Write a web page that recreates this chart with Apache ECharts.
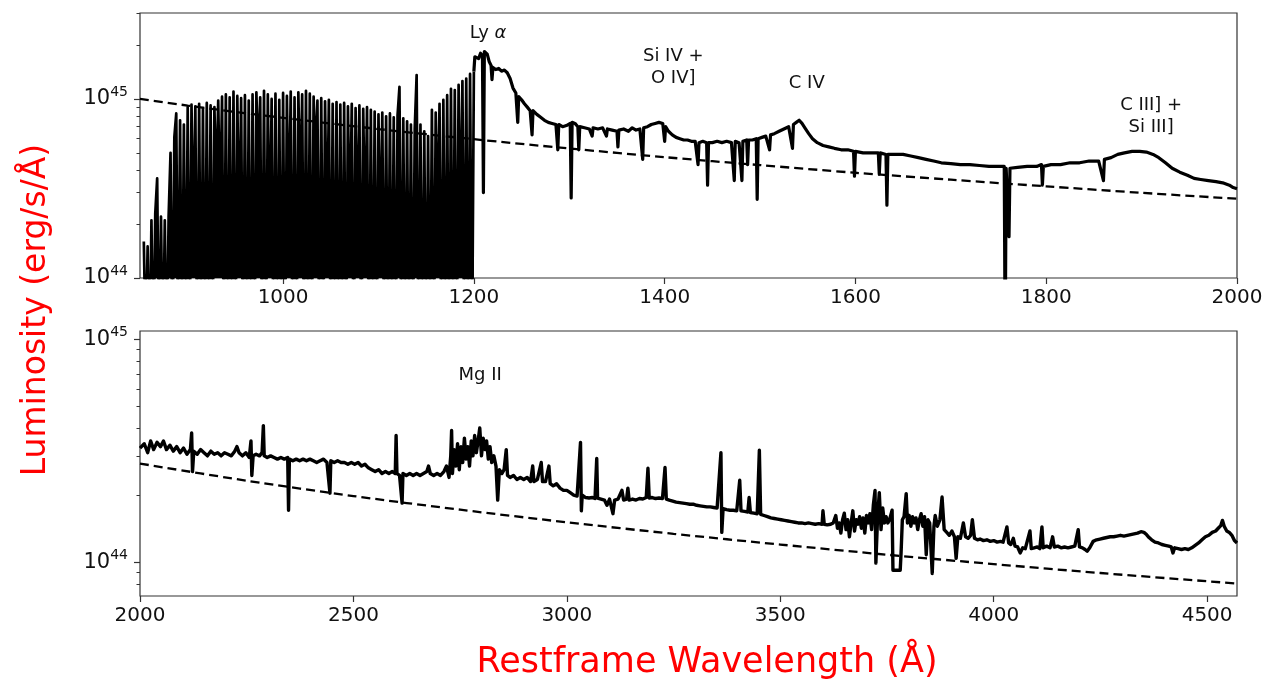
<!DOCTYPE html>
<html>
<head>
<meta charset="utf-8">
<title>Quasar rest-frame spectrum</title>
<script src="https://cdn.jsdelivr.net/npm/echarts@6/dist/echarts.min.js"></script>
<style>
  html, body { margin: 0; padding: 0; background: #ffffff; }
  #chart { width: 1267px; height: 685px; }
</style>
</head>
<body>
<div id="chart"></div>
<script>
// Luminosities are listed in units of 1e44 erg/s/Å.
const UNIT = 1e44;

// Lyman-alpha forest, sampled every 2 Å from 854 Å.
const forestStart = 854;
const forestStep = 2;
const forestLum = [
  1.6, 0.4, 1.5, 0.3, 2.1, 0.3, 2.3, 3.6, 0.3, 2.2,
  0.3, 2.1, 0.3, 2.2, 5.0, 0.3, 6.1, 8.3, 0.3, 7.6,
  0.3, 7.2, 0.3, 9.0, 0.3, 9.3, 1.5, 9.1, 0.3, 9.4,
  0.3, 8.9, 0.3, 9.5, 0.3, 9.2, 0.3, 9.0, 3.0, 9.8,
  2.2, 10.3, 0.3, 10.6, 0.3, 10.2, 0.3, 11.0, 0.3, 10.4,
  1.4, 10.1, 0.3, 10.5, 0.3, 9.8, 0.3, 10.6, 0.3, 10.9,
  4.3, 10.2, 0.3, 11.1, 0.3, 10.6, 1.2, 10.0, 0.3, 10.7,
  0.3, 9.9, 0.3, 10.8, 0.3, 10.4, 1.8, 11.0, 0.3, 10.2,
  0.3, 10.9, 2.6, 10.6, 0.3, 11.1, 0.3, 10.7, 0.3, 10.3,
  4.5, 9.8, 0.3, 10.1, 0.3, 9.7, 1.5, 9.9, 0.3, 9.4,
  0.3, 9.6, 0.3, 9.3, 0.3, 9.5, 0.3, 9.1, 1.6, 9.4,
  0.3, 8.9, 1.6, 9.2, 0.3, 8.8, 1.6, 9.0, 0.3, 8.7,
  0.3, 8.5, 0.3, 8.2, 1.2, 8.4, 0.3, 8.0, 0.3, 8.3,
  0.3, 7.9, 0.3, 8.1, 11.7, 0.3, 7.8, 0.3, 7.5, 0.3,
  7.2, 0.3, 6.8, 13.6, 0.3, 7.2, 0.3, 6.6, 0.3, 6.2,
  0.3, 8.7, 0.3, 8.4, 1.9, 9.4, 0.3, 9.9, 0.3, 10.5,
  0.3, 11.4, 0.3, 11.2, 0.3, 12.0, 1.5, 12.6, 0.3, 13.0,
  0.3, 13.8, 0.3, 14.2
];

// Far-UV spectrum redward of the forest: [wavelength Å, luminosity].
const uvSpectrum = [
  [1200, 14.2], [1201, 17.2], [1203, 17.6], [1205, 16.8], [1207, 18.0], [1209, 17.5],
  [1210, 3.0], [1211, 18.4], [1212, 18.8], [1214, 17.8], [1216, 16.2], [1218, 15.4],
  [1219, 12.8], [1220, 15.0], [1223, 14.6], [1226, 14.8], [1229, 14.3], [1232, 14.5],
  [1235, 14.0], [1238, 13.0], [1241, 11.5], [1244, 10.8], [1246, 7.4], [1247, 10.3],
  [1250, 9.9], [1253, 9.4], [1256, 9.0], [1259, 8.6], [1261, 6.3], [1262, 8.6],
  [1266, 8.2], [1270, 7.9], [1274, 7.6], [1278, 7.4], [1282, 7.3], [1286, 7.2],
  [1288, 5.2], [1289, 7.2], [1293, 7.0], [1297, 7.1], [1301, 7.3], [1302, 2.8],
  [1303, 7.4], [1306, 7.3], [1309, 7.0], [1310, 5.2], [1311, 7.0], [1316, 6.9],
  [1321, 6.8], [1324, 6.2], [1325, 6.9], [1330, 6.8], [1335, 6.9], [1339, 6.2],
  [1340, 6.8], [1345, 6.7], [1350, 6.6], [1351, 5.4], [1352, 6.7], [1357, 6.8],
  [1362, 6.6], [1366, 6.9], [1370, 6.7], [1374, 6.8], [1377, 4.6], [1378, 6.9],
  [1382, 7.0], [1386, 7.2], [1390, 7.3], [1394, 7.4], [1398, 7.3], [1400, 5.8],
  [1401, 7.0], [1404, 6.6], [1408, 6.3], [1412, 6.1], [1416, 6.0], [1420, 5.9],
  [1424, 5.9], [1428, 5.8], [1432, 5.8], [1435, 4.3], [1436, 5.7], [1440, 5.8],
  [1444, 5.7], [1445, 3.3], [1446, 5.7], [1450, 5.7], [1455, 5.8], [1460, 5.7],
  [1465, 5.8], [1470, 5.7], [1473, 3.5], [1474, 5.8], [1478, 5.7], [1481, 3.5],
  [1482, 5.8], [1486, 5.9], [1487, 4.3], [1488, 5.9], [1492, 5.9], [1496, 6.0],
  [1497, 2.75], [1498, 6.0], [1502, 6.1], [1506, 6.2], [1510, 5.2], [1511, 6.3],
  [1515, 6.4], [1520, 6.6], [1525, 6.8], [1530, 7.0], [1534, 5.3], [1535, 7.2],
  [1538, 7.4], [1541, 7.6], [1544, 7.3], [1547, 6.9], [1551, 6.4], [1555, 6.0],
  [1560, 5.7], [1566, 5.5], [1572, 5.4], [1578, 5.3], [1585, 5.2], [1592, 5.2],
  [1598, 5.1], [1599, 3.7], [1600, 5.1], [1608, 5.0], [1616, 5.0], [1624, 5.0],
  [1625, 3.8], [1626, 5.0], [1632, 4.9], [1633, 2.55], [1634, 4.9], [1642, 4.9],
  [1650, 4.9], [1658, 4.8], [1666, 4.7], [1674, 4.6], [1682, 4.5], [1690, 4.4],
  [1700, 4.35], [1710, 4.3], [1720, 4.3], [1730, 4.25], [1740, 4.2], [1750, 4.2],
  [1756, 4.2], [1757, 0.4], [1758, 4.1], [1760, 4.1], [1761, 1.7], [1762, 4.1],
  [1770, 4.15], [1780, 4.2], [1790, 4.2], [1795, 4.3], [1796, 3.3], [1797, 4.2],
  [1805, 4.3], [1815, 4.3], [1825, 4.4], [1835, 4.4], [1845, 4.5], [1855, 4.5],
  [1860, 3.5], [1861, 4.6], [1868, 4.7], [1875, 4.9], [1882, 5.0], [1890, 5.1],
  [1898, 5.1], [1905, 5.05], [1912, 4.9], [1918, 4.7], [1925, 4.4], [1932, 4.1],
  [1940, 3.9], [1948, 3.75], [1955, 3.6], [1962, 3.55], [1970, 3.5], [1978, 3.45],
  [1985, 3.4], [1992, 3.3], [1996, 3.2], [2000, 3.15]
];

// Near-UV / optical spectrum: [wavelength Å, luminosity].
const opticalSpectrum = [
  [2000, 3.25], [2010, 3.4], [2018, 3.1], [2025, 3.5], [2032, 3.2], [2040, 3.45],
  [2048, 3.3], [2055, 3.5], [2062, 3.2], [2070, 3.35], [2078, 3.15], [2086, 3.3],
  [2094, 3.1], [2102, 3.25], [2110, 3.05], [2118, 3.2], [2121, 3.8], [2123, 2.55],
  [2126, 3.15], [2134, 3.05], [2142, 3.2], [2150, 3.1], [2158, 3.0], [2166, 3.15],
  [2174, 3.05], [2182, 3.1], [2190, 3.0], [2198, 3.1], [2206, 3.05], [2214, 3.0],
  [2222, 3.15], [2227, 3.3], [2232, 3.1], [2240, 3.0], [2248, 3.1], [2256, 2.95],
  [2260, 3.5], [2262, 2.45], [2265, 3.0], [2272, 3.05], [2280, 3.0], [2286, 3.1],
  [2289, 4.1], [2291, 3.0], [2298, 2.95], [2306, 3.0], [2314, 2.95], [2322, 2.9],
  [2330, 2.95], [2338, 2.9], [2346, 2.95], [2348, 1.71], [2350, 2.9], [2358, 2.85],
  [2366, 2.9], [2374, 2.85], [2382, 2.9], [2390, 2.85], [2398, 2.9], [2406, 2.85],
  [2414, 2.8], [2422, 2.85], [2430, 2.9], [2438, 2.8], [2445, 2.04], [2447, 2.85],
  [2455, 2.8], [2463, 2.85], [2471, 2.8], [2479, 2.8], [2487, 2.75], [2495, 2.8],
  [2503, 2.75], [2511, 2.8], [2519, 2.7], [2527, 2.75], [2535, 2.65], [2543, 2.6],
  [2551, 2.55], [2559, 2.6], [2567, 2.5], [2575, 2.55], [2583, 2.5], [2591, 2.55],
  [2598, 2.5], [2600, 3.7], [2602, 2.5], [2608, 2.45], [2614, 1.84], [2616, 2.5],
  [2624, 2.45], [2632, 2.5], [2640, 2.45], [2648, 2.5], [2656, 2.45], [2664, 2.5],
  [2672, 2.55], [2676, 2.7], [2680, 2.5], [2688, 2.45], [2696, 2.5], [2704, 2.45],
  [2712, 2.55], [2718, 2.7], [2724, 2.4], [2728, 3.0], [2730, 3.9], [2732, 2.5],
  [2736, 3.2], [2740, 2.7], [2744, 3.4], [2748, 2.6], [2752, 3.3], [2756, 2.8],
  [2760, 3.6], [2764, 2.9], [2768, 3.3], [2772, 2.7], [2776, 3.5], [2780, 3.0],
  [2784, 3.7], [2788, 3.1], [2792, 3.5], [2796, 4.0], [2800, 3.0], [2804, 3.6],
  [2808, 3.2], [2812, 3.5], [2816, 2.9], [2820, 3.3], [2824, 2.8], [2829, 3.0],
  [2834, 2.7], [2838, 1.9], [2842, 2.6], [2848, 2.5], [2853, 2.6], [2858, 3.2],
  [2861, 2.45], [2867, 2.4], [2875, 2.45], [2883, 2.35], [2891, 2.4], [2899, 2.35],
  [2907, 2.4], [2915, 2.3], [2920, 2.7], [2923, 2.3], [2931, 2.35], [2940, 2.8],
  [2943, 2.3], [2950, 2.3], [2958, 2.7], [2961, 2.25], [2968, 2.2], [2976, 2.25],
  [2984, 2.15], [2992, 2.1], [3000, 2.1], [3008, 2.05], [3016, 2.0], [3024, 1.98],
  [3032, 3.45], [3034, 1.7], [3036, 2.0], [3044, 1.95], [3052, 1.94], [3060, 1.95],
  [3066, 1.93], [3070, 2.92], [3072, 1.94], [3080, 1.92], [3088, 1.9], [3094, 1.8],
  [3100, 1.92], [3108, 1.65], [3112, 1.9], [3120, 1.92], [3129, 2.1], [3133, 1.9],
  [3140, 1.92], [3143, 2.15], [3146, 1.9], [3154, 1.92], [3162, 1.9], [3170, 1.93],
  [3178, 1.92], [3186, 1.95], [3190, 2.64], [3193, 1.94], [3200, 1.95], [3208, 1.93],
  [3216, 1.94], [3224, 1.93], [3230, 2.66], [3233, 1.92], [3240, 1.9], [3248, 1.88],
  [3256, 1.86], [3264, 1.85], [3272, 1.84], [3280, 1.83], [3288, 1.82], [3296, 1.82],
  [3304, 1.8], [3312, 1.79], [3320, 1.78], [3328, 1.77], [3336, 1.77], [3344, 1.76],
  [3352, 1.75], [3361, 3.1], [3363, 1.36], [3366, 1.74], [3374, 1.72], [3382, 1.71],
  [3390, 1.71], [3398, 1.7], [3405, 2.33], [3408, 1.7], [3416, 1.69], [3424, 1.68],
  [3427, 1.95], [3430, 1.67], [3438, 1.66], [3446, 1.65], [3451, 3.18], [3454, 1.64],
  [3462, 1.62], [3470, 1.6], [3478, 1.58], [3486, 1.57], [3494, 1.56], [3502, 1.55],
  [3510, 1.54], [3518, 1.53], [3526, 1.52], [3534, 1.51], [3542, 1.5], [3550, 1.5],
  [3558, 1.49], [3566, 1.5], [3574, 1.49], [3582, 1.48], [3590, 1.49], [3598, 1.48],
  [3600, 1.7], [3603, 1.48], [3610, 1.47], [3618, 1.48], [3624, 1.5], [3630, 1.62],
  [3634, 1.42], [3638, 1.5], [3642, 1.35], [3646, 1.55], [3650, 1.66], [3654, 1.4],
  [3658, 1.55], [3662, 1.3], [3666, 1.5], [3670, 1.7], [3674, 1.38], [3678, 1.55],
  [3682, 1.48], [3686, 1.6], [3690, 1.42], [3694, 1.58], [3698, 1.35], [3702, 1.62],
  [3706, 1.5], [3710, 1.65], [3714, 1.4], [3718, 1.8], [3722, 2.1], [3724, 0.99],
  [3728, 1.6], [3732, 2.05], [3736, 1.4], [3740, 1.75], [3744, 1.5], [3748, 1.6],
  [3752, 1.5], [3756, 1.55], [3762, 1.71], [3764, 0.92], [3781, 0.92], [3783, 1.1],
  [3786, 1.55], [3790, 1.6], [3795, 2.03], [3798, 1.5], [3802, 1.62], [3806, 1.45],
  [3810, 1.6], [3814, 1.5], [3818, 1.58], [3822, 1.4], [3826, 1.55], [3830, 1.65],
  [3834, 1.45], [3838, 1.6], [3842, 1.08], [3846, 1.55], [3850, 1.5], [3856, 0.89],
  [3860, 1.45], [3863, 1.62], [3868, 1.45], [3874, 1.55], [3879, 1.96], [3884, 1.4],
  [3890, 1.36], [3896, 1.32], [3902, 1.38], [3908, 1.3], [3912, 1.04], [3916, 1.3],
  [3922, 1.28], [3929, 1.5], [3934, 1.3], [3940, 1.28], [3946, 1.32], [3950, 1.55],
  [3955, 1.28], [3962, 1.26], [3968, 1.27], [3976, 1.25], [3984, 1.26], [3992, 1.24],
  [4000, 1.25], [4008, 1.23], [4016, 1.24], [4022, 1.23], [4031, 1.44], [4035, 1.22],
  [4040, 1.2], [4046, 1.28], [4050, 1.18], [4056, 1.17], [4062, 1.1], [4068, 1.16],
  [4074, 1.15], [4078, 1.13], [4085, 1.38], [4088, 1.15], [4095, 1.16], [4102, 1.17],
  [4108, 1.15], [4113, 1.44], [4116, 1.16], [4124, 1.18], [4132, 1.16], [4138, 1.3],
  [4142, 1.17], [4150, 1.18], [4158, 1.16], [4166, 1.17], [4174, 1.16], [4182, 1.17],
  [4190, 1.18], [4198, 1.4], [4201, 1.17], [4208, 1.16], [4214, 1.14], [4219, 1.12],
  [4225, 1.16], [4233, 1.24], [4241, 1.26], [4249, 1.27], [4257, 1.28], [4265, 1.29],
  [4273, 1.3], [4281, 1.3], [4289, 1.31], [4297, 1.32], [4305, 1.31], [4313, 1.32],
  [4321, 1.33], [4329, 1.34], [4337, 1.35], [4345, 1.37], [4352, 1.36], [4358, 1.33],
  [4364, 1.29], [4370, 1.26], [4378, 1.23], [4386, 1.22], [4394, 1.2], [4402, 1.19],
  [4410, 1.18], [4416, 1.17], [4420, 1.1], [4424, 1.16], [4432, 1.15], [4440, 1.14],
  [4448, 1.15], [4456, 1.14], [4464, 1.16], [4472, 1.19], [4480, 1.22], [4488, 1.26],
  [4496, 1.3], [4504, 1.32], [4512, 1.36], [4520, 1.38], [4526, 1.42], [4532, 1.46],
  [4536, 1.54], [4540, 1.45], [4546, 1.38], [4552, 1.36], [4558, 1.32], [4564, 1.25],
  [4570, 1.22]
];

// Power-law continuum (dashed).
const continuumUvLambda = [850, 900, 950, 1000, 1100, 1200, 1300, 1400, 1500, 1600, 1700, 1800, 1900, 2000];
const continuumUvLum = [10.0, 9.18, 8.46, 7.84, 6.79, 5.96, 5.29, 4.73, 4.27, 3.87, 3.54, 3.25, 2.99, 2.77];
const continuumOptLambda = [2000, 2250, 2500, 2750, 3000, 3250, 3500, 3750, 4000, 4250, 4500, 4570];
const continuumOptLum = [2.77, 2.32, 1.98, 1.72, 1.51, 1.34, 1.20, 1.08, 0.98, 0.894, 0.821, 0.802];

// Axis ticks.
const uvTicks = [1000, 1200, 1400, 1600, 1800, 2000];
const optTicks = [2000, 2500, 3000, 3500, 4000, 4500];
const decadeTicks = [1e44, 1e45];
const uvMinorTicks = [2e44, 3e44, 4e44, 5e44, 6e44, 7e44, 8e44, 9e44, 2e45, 3e45];
const optMinorTicks = [8e43, 9e43, 2e44, 3e44, 4e44, 5e44, 6e44, 7e44, 8e44, 9e44];

// Emission-line annotations.
const uvLineNames = ['Ly α', 'Si IV +\nO IV]', 'C IV', 'C III] +\nSi III]'];
const uvLineLambda = [1215, 1409, 1549, 1910];
const uvLineLum = [23.4, 15.0, 12.3, 8.04];
const optLineNames = ['Mg II'];
const optLineLambda = [2797];
const optLineLum = [6.9];

const FONT = 'DejaVu Sans';
const INK = '#111111';

const pairs = (xs, ys) => xs.map((x, i) => [x, ys[i] * UNIT]);
const scaled = rows => rows.map(r => [r[0], r[1] * UNIT]);
const forestData = forestLum.map((v, i) => [forestStart + i * forestStep, v * UNIT]);

const decadeLabel = v => '{b|10}{s|' + Math.round(Math.log10(v)) + '}';
const decadeRich = {
  b: { fontSize: 21, fontFamily: FONT, color: INK },
  s: { fontSize: 14, fontFamily: FONT, color: INK, padding: [0, 0, 14, 0] }
};

function xAxisFor(grid, min, max, ticks) {
  return {
    type: 'value', gridIndex: grid, min: min, max: max,
    axisLine: { show: false },
    splitLine: { show: false },
    axisTick: { show: true, customValues: ticks, length: 6, lineStyle: { color: '#333', width: 1.2 } },
    axisLabel: {
      show: true, customValues: ticks, margin: 10, fontSize: 20, fontFamily: FONT, color: INK,
      formatter: v => String(v)
    }
  };
}

function yMajor(grid, min, max) {
  return {
    type: 'log', logBase: 10, gridIndex: grid, min: min, max: max, position: 'left',
    axisLine: { show: false },
    splitLine: { show: false },
    minorTick: { show: false },
    axisTick: { show: true, customValues: decadeTicks, length: 6, lineStyle: { color: '#333', width: 1.2 } },
    axisLabel: { show: true, customValues: decadeTicks, margin: 12, formatter: decadeLabel, rich: decadeRich }
  };
}

function yMinor(grid, min, max, ticks) {
  return {
    type: 'log', logBase: 10, gridIndex: grid, min: min, max: max, position: 'left', offset: 0,
    axisLine: { show: false },
    splitLine: { show: false },
    axisTick: { show: true, customValues: ticks, length: 3.5, lineStyle: { color: '#333', width: 1 } },
    axisLabel: { show: false }
  };
}

function lineMarks(names, lambdas, lums) {
  return {
    silent: true,
    animation: false,
    symbol: 'circle',
    symbolSize: 1,
    itemStyle: { color: 'rgba(0,0,0,0)' },
    label: {
      show: true, position: 'inside', color: INK, fontFamily: FONT, fontSize: 18, lineHeight: 22,
      formatter: p => p.name === 'Ly α' ? '{n|Ly }{a|α}' : p.name,
      rich: {
        n: { fontSize: 18, fontFamily: FONT, color: INK },
        a: { fontSize: 18, fontFamily: FONT, color: INK, fontStyle: 'italic' }
      }
    },
    data: names.map((n, i) => ({ name: n, coord: [lambdas[i], lums[i] * UNIT] }))
  };
}

const spectrumStyle = w => ({ color: '#000', width: w, join: 'round' });
const dashStyle = { color: '#000', width: 2.3, type: [9, 5] };

const chart = echarts.init(document.getElementById('chart'), null, { renderer: 'canvas' });
chart.setOption({
  animation: false,
  backgroundColor: '#ffffff',
  grid: [
    { left: 140, top: 13, width: 1097, height: 265, show: true, borderColor: '#333', borderWidth: 1.2, backgroundColor: 'transparent' },
    { left: 140, top: 331, width: 1097, height: 265, show: true, borderColor: '#333', borderWidth: 1.2, backgroundColor: 'transparent' }
  ],
  xAxis: [
    xAxisFor(0, 850, 2000, uvTicks),
    xAxisFor(1, 2000, 4570, optTicks)
  ],
  yAxis: [
    yMajor(0, 1e44, 3.02e45),
    yMinor(0, 1e44, 3.02e45, uvMinorTicks),
    yMajor(1, 7.05e43, 1.09e45),
    yMinor(1, 7.05e43, 1.09e45, optMinorTicks)
  ],
  series: [
    {
      // The forest is sampled far more finely than a pixel, so the trace is drawn filled down to the axis.
      name: 'forest', type: 'line', xAxisIndex: 0, yAxisIndex: 0, data: forestData,
      showSymbol: false, symbol: 'none', clip: true, lineStyle: spectrumStyle(2.7), z: 3,
      areaStyle: { color: '#000', opacity: 1, origin: 'start' }
    },
    {
      name: 'uv', type: 'line', xAxisIndex: 0, yAxisIndex: 0, data: scaled(uvSpectrum),
      showSymbol: false, symbol: 'none', clip: true, lineStyle: spectrumStyle(3.2), z: 3,
      markPoint: lineMarks(uvLineNames, uvLineLambda, uvLineLum)
    },
    {
      name: 'uvContinuum', type: 'line', xAxisIndex: 0, yAxisIndex: 0, data: pairs(continuumUvLambda, continuumUvLum),
      showSymbol: false, symbol: 'none', smooth: 0.3, clip: true, lineStyle: dashStyle, z: 4
    },
    {
      name: 'optical', type: 'line', xAxisIndex: 1, yAxisIndex: 2, data: scaled(opticalSpectrum),
      showSymbol: false, symbol: 'none', clip: true, lineStyle: spectrumStyle(3.4), z: 3,
      markPoint: lineMarks(optLineNames, optLineLambda, optLineLum)
    },
    {
      name: 'opticalContinuum', type: 'line', xAxisIndex: 1, yAxisIndex: 2, data: pairs(continuumOptLambda, continuumOptLum),
      showSymbol: false, symbol: 'none', smooth: 0.3, clip: true, lineStyle: dashStyle, z: 4
    }
  ],
  graphic: [
    {
      type: 'text', x: 36, y: 310, rotation: Math.PI / 2,
      style: { text: 'Luminosity (erg/s/Å)', fill: '#ff0000', font: '33px "DejaVu Sans"', textAlign: 'center', textVerticalAlign: 'middle' }
    },
    {
      type: 'text', x: 707, y: 663,
      style: { text: 'Restframe Wavelength (Å)', fill: '#ff0000', font: '35px "DejaVu Sans"', textAlign: 'center', textVerticalAlign: 'middle' }
    }
  ]
});
</script>
</body>
</html>
